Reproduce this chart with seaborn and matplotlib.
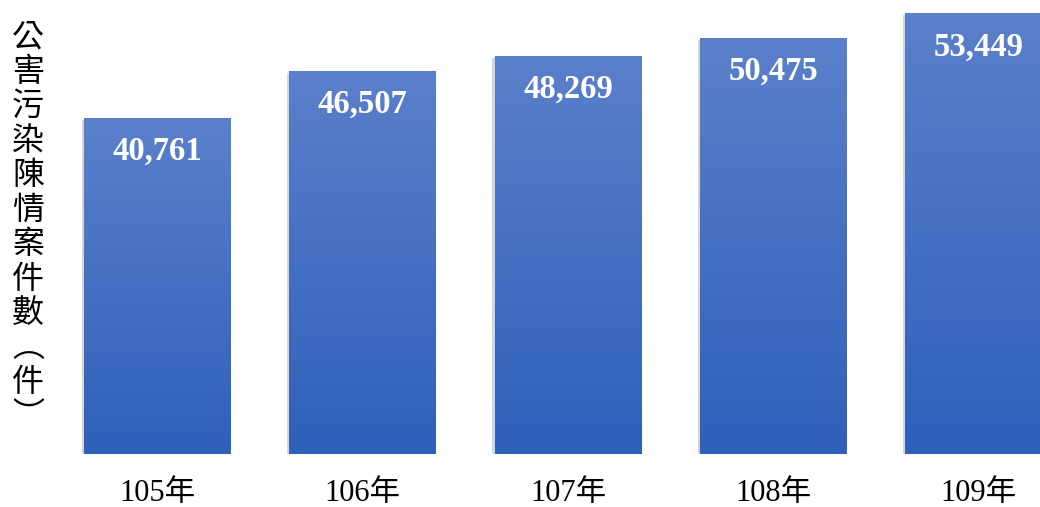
import numpy as np
import pandas as pd
import matplotlib
matplotlib.use("Agg")
import matplotlib.pyplot as plt
import matplotlib.patheffects as pe
import matplotlib.transforms as mtransforms
from matplotlib.colors import LinearSegmentedColormap
import seaborn as sns

years = ["105年", "106年", "107年", "108年", "109年"]
cases = [40761, 46507, 48269, 50475, 53449]
ylabel_text = "公害污染陳情案件數︵件︶"

sns.set_theme(style="white")
plt.rcParams['font.family'] = ['Liberation Serif', 'Noto Sans CJK TC', 'DejaVu Sans']

df = pd.DataFrame({"year": years, "cases": cases})

fig = plt.figure(figsize=(10.4, 5.07), dpi=100)
ax = fig.add_axes([0.06, 0.1045, 0.94, 0.8955])

sns.barplot(data=df, x="year", y="cases", ax=ax, color="#4570C4", width=0.716,
            saturation=1, edgecolor="none")

cmap = LinearSegmentedColormap.from_list("g", ["#2E60BA", "#5B80CB"])
grad = np.linspace(0, 1, 256).reshape(-1, 1)
for p in ax.patches:
    p.set_path_effects([pe.SimplePatchShadow(offset=(-1.5, -1.5), shadow_rgbFace="#999999", alpha=0.4),
                        pe.Normal()])
    x0, y0 = p.get_x(), p.get_y()
    w, h = p.get_width(), p.get_height()
    im = ax.imshow(grad, cmap=cmap, origin="lower", aspect="auto",
                   extent=[x0, x0 + w, y0, y0 + h], zorder=p.get_zorder() + 0.1)
    im.set_clip_path(p)

ax.set_xlim(-0.4633, 4.2996)
ax.set_ylim(0, 55057)

offset = mtransforms.ScaledTranslation(0, -13 / 72, fig.dpi_scale_trans)
for i, v in enumerate(cases):
    ax.text(i, v, f"{v:,}", ha="center", va="top", color="white",
            fontsize=23.5, fontweight="bold", family="Liberation Serif",
            transform=ax.transData + offset, zorder=5)

ax.set_xlabel("")
ax.set_ylabel("")
ax.set_yticks([])
for s in ax.spines.values():
    s.set_visible(False)
ax.tick_params(axis="x", length=0, pad=18)
for lab in ax.get_xticklabels():
    lab.set_fontsize(22)
    lab.set_family(['Liberation Serif', 'Noto Sans CJK TC'])
    lab.set_color("black")

fig.text(0.027, 0.552, "\n".join(ylabel_text), ha="center", va="center",
         fontsize=23, family=['Noto Sans CJK TC', 'DejaVu Sans'],
         linespacing=1.1, color="black")

fig.savefig("out.png", dpi=100)
